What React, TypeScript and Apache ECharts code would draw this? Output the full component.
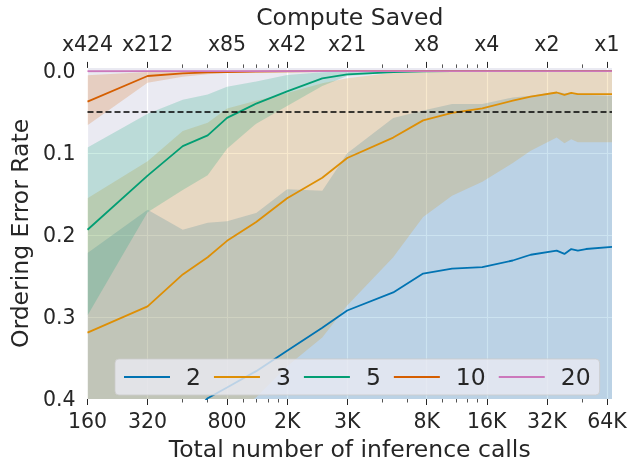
import React, { useEffect, useRef } from "react";
import * as echarts from "echarts";

// ---------- data ----------
const CALLS = [160, 320, 480, 640, 800, 1120, 1600, 2400, 3200, 5440, 7680, 10720, 15200, 21600, 26560, 35840, 39200, 42400, 45760, 50240, 67840];

const SERIES_NAMES = ["2", "3", "5", "10", "20"];
const COLORS = ["#0173b2", "#de8f05", "#029e73", "#d55e00", "#cc78bc"];

const MEAN_2 = [0.5, 0.46, 0.43, 0.399, 0.386, 0.366, 0.341, 0.313, 0.292, 0.27, 0.247, 0.241, 0.239, 0.231, 0.224, 0.219, 0.223, 0.217, 0.219, 0.217, 0.2145];
const LO_2 = [0.222, 0.169, 0.1935, 0.185, 0.183, 0.173, 0.144, 0.146, 0.1, 0.057, 0.048, 0.04, 0.04, 0.032, 0.03, 0.025, 0.027, 0.026, 0.028, 0.029, 0.03];
const HI_2 = [0.55, 0.55, 0.55, 0.55, 0.55, 0.55, 0.55, 0.55, 0.55, 0.55, 0.55, 0.55, 0.55, 0.55, 0.55, 0.55, 0.55, 0.55, 0.55, 0.55, 0.55];

const MEAN_3 = [0.319, 0.287, 0.248, 0.227, 0.207, 0.184, 0.155, 0.13, 0.106, 0.081, 0.06, 0.051, 0.0455, 0.036, 0.031, 0.026, 0.029, 0.0265, 0.028, 0.028, 0.028];
const LO_3 = [0.155, 0.11, 0.073, 0.063, 0.0455, 0.036, 0.0265, 0.0146, 0.0087, 0.002, 0, 0, 0, 0, 0, 0, 0, 0, 0, 0, 0];
const HI_3 = [0.52, 0.49, 0.46, 0.44, 0.42, 0.398, 0.36, 0.325, 0.286, 0.227, 0.178, 0.152, 0.135, 0.112, 0.097, 0.081, 0.088, 0.083, 0.0866, 0.0866, 0.0866];

const MEAN_5 = [0.1935, 0.1274, 0.0914, 0.0783, 0.057, 0.0395, 0.0246, 0.0087, 0.004, 0.0012, 0.0003, 0, 0, 0, 0, 0, 0, 0, 0, 0, 0];
const LO_5 = [0.093, 0.052, 0.035, 0.0285, 0.019, 0.0127, 0.0047, 0.0012, 0, 0, 0, 0, 0, 0, 0, 0, 0, 0, 0, 0, 0];
const HI_5 = [0.298, 0.172, 0.145, 0.127, 0.0946, 0.064, 0.0424, 0.018, 0.006, 0.0015, 0.0005, 0, 0, 0, 0, 0, 0, 0, 0, 0, 0];

const MEAN_10 = [0.0372, 0.0059, 0.0027, 0.0015, 0.001, 0.0006, 0.0003, 0, 0, 0, 0, 0, 0, 0, 0, 0, 0, 0, 0, 0, 0];
const LO_10 = [0.005, 0.001, 0, 0, 0, 0, 0, 0, 0, 0, 0, 0, 0, 0, 0, 0, 0, 0, 0, 0, 0];
const HI_10 = [0.066, 0.014, 0.0068, 0.0036, 0.002, 0.001, 0.0005, 0, 0, 0, 0, 0, 0, 0, 0, 0, 0, 0, 0, 0, 0];

const MEAN_20 = [0, 0, 0, 0, 0, 0, 0, 0, 0, 0, 0, 0, 0, 0, 0, 0, 0, 0, 0, 0, 0];
const LO_20 = [0, 0, 0, 0, 0, 0, 0, 0, 0, 0, 0, 0, 0, 0, 0, 0, 0, 0, 0, 0, 0];
const HI_20 = [0.002, 0.001, 0.0005, 0, 0, 0, 0, 0, 0, 0, 0, 0, 0, 0, 0, 0, 0, 0, 0, 0, 0];

const THRESHOLD = 0.05;

const MAJOR_TICKS = [160, 320, 800, 1600, 3200, 8000, 16000, 32000, 64000];
const BOTTOM_LABELS = ["160", "320", "800", "2K", "3K", "8K", "16K", "32K", "64K"];
const TOP_LABELS = ["x424", "x212", "x85", "x42", "x21", "x8", "x4", "x2", "x1"];
const MINOR_TICKS = [480, 640, 960, 1120, 1280, 1440, 4800, 6400, 9600, 11200, 12800, 14400, 48000];
const Y_TICKS = [0, 0.1, 0.2, 0.3, 0.4];
const Y_MIN = -0.004;
const Y_MAX = 0.4;
const X_MIN = 160;
const X_MAX = 67840;

const MEANS = [MEAN_2, MEAN_3, MEAN_5, MEAN_10, MEAN_20];
const LOWS = [LO_2, LO_3, LO_5, LO_10, LO_20];
const HIGHS = [HI_2, HI_3, HI_5, HI_10, HI_20];

// ---------- helpers ----------
const lx = (v: number) => Math.log10(v);
const FONT = "DejaVu Sans";
const TEXT = "#262626";

function rgba(hex: string, a: number) {
  const n = parseInt(hex.slice(1), 16);
  return `rgba(${(n >> 16) & 255},${(n >> 8) & 255},${n & 255},${a})`;
}

function labelFor(labels: string[]) {
  return (val: number) => {
    for (let i = 0; i < MAJOR_TICKS.length; i++) {
      if (Math.abs(lx(MAJOR_TICKS[i]) - val) < 1e-6) return labels[i];
    }
    return "";
  };
}

function bandSeries(lo: number[], hi: number[], color: string) {
  return {
    type: "custom",
    silent: true,
    z: 1,
    xAxisIndex: 0,
    yAxisIndex: 0,
    data: [[lx(CALLS[0]), lo[0]]],
    renderItem: (params: any, api: any) => {
      const cs = params.coordSys;
      const pts: number[][] = [];
      for (let i = 0; i < CALLS.length; i++) pts.push(api.coord([lx(CALLS[i]), lo[i]]));
      for (let i = CALLS.length - 1; i >= 0; i--) pts.push(api.coord([lx(CALLS[i]), hi[i]]));
      return {
        type: "group",
        clipPath: { type: "rect", shape: { x: cs.x, y: cs.y, width: cs.width, height: cs.height } },
        children: [
          {
            type: "polygon",
            shape: { points: pts },
            style: { fill: rgba(color, 0.2), stroke: "none" },
          },
        ],
      };
    },
  };
}

export default function App() {
  const ref = useRef<HTMLDivElement>(null);

  useEffect(() => {
    if (!ref.current) return;
    const chart = echarts.init(ref.current, undefined, { renderer: "svg" });

    const majorVals = MAJOR_TICKS.map(lx);
    const minorVals = MINOR_TICKS.map(lx);

    const baseX = {
      type: "value",
      min: lx(X_MIN),
      max: lx(X_MAX),
      gridIndex: 0,
      axisLine: { show: false, onZero: false },
    };

    const lineSeries = SERIES_NAMES.map((name, k) => ({
      name,
      type: "line",
      xAxisIndex: 0,
      yAxisIndex: 0,
      z: 3,
      symbol: "none",
      showSymbol: false,
      clip: true,
      color: COLORS[k],
      lineStyle: { color: COLORS[k], width: 1.8 },
      data: CALLS.map((c, i) => [lx(c), MEANS[k][i]]),
      ...(k === 0
        ? {
            markLine: {
              silent: true,
              symbol: "none",
              label: { show: false },
              z: 4,
              lineStyle: { color: "#000", type: [6, 3], width: 1.7 },
              data: [{ yAxis: THRESHOLD }],
            },
          }
        : {}),
    }));

    const bands = SERIES_NAMES.map((_, k) => bandSeries(LOWS[k], HIGHS[k], COLORS[k]));

    chart.setOption({
      animation: false,
      textStyle: { fontFamily: FONT },
      grid: {
        left: 85,
        right: 19,
        top: 67.5,
        bottom: 58,
        show: true,
        backgroundColor: "#EAEAF2",
        borderWidth: 0,
      },
      legend: {
        data: SERIES_NAMES,
        left: 115,
        top: 359,
        orient: "horizontal",
        icon: "rect",
        itemWidth: 46,
        itemHeight: 2,
        itemGap: 13,
        padding: [6, 9, 6, 9],
        backgroundColor: "rgba(234,234,242,0.8)",
        borderColor: "rgba(204,204,204,0.8)",
        borderWidth: 1,
        borderRadius: 4,
        textStyle: { fontSize: 23.5, color: TEXT, fontFamily: FONT, padding: [0, 0, 0, 11] },
      },
      xAxis: [
        {
          ...baseX,
          position: "bottom",
          name: "Total number of inference calls",
          nameLocation: "middle",
          nameGap: 38,
          nameTextStyle: { fontSize: 23.5, color: TEXT, fontFamily: FONT },
          axisTick: { show: true, customValues: majorVals, length: 6, lineStyle: { color: TEXT, width: 1 } },
          axisLabel: { customValues: majorVals, formatter: labelFor(BOTTOM_LABELS), fontSize: 20.5, color: TEXT, fontFamily: FONT, margin: 11 },
          splitLine: { show: true, lineStyle: { color: "#ffffff", width: 1.2 } },
        },
        {
          ...baseX,
          position: "bottom",
          axisTick: { show: true, customValues: minorVals, length: 3.5, lineStyle: { color: TEXT, width: 0.8 } },
          axisLabel: { show: false },
          splitLine: { show: false },
        },
        {
          ...baseX,
          position: "top",
          name: "Compute Saved",
          nameLocation: "middle",
          nameGap: 36,
          nameTextStyle: { fontSize: 23.5, color: TEXT, fontFamily: FONT },
          axisTick: { show: true, customValues: majorVals, length: 6, lineStyle: { color: TEXT, width: 1 } },
          axisLabel: { customValues: majorVals, formatter: labelFor(TOP_LABELS), fontSize: 20.5, color: TEXT, fontFamily: FONT, margin: 13 },
          splitLine: { show: false },
        },
        {
          ...baseX,
          position: "top",
          axisTick: { show: true, customValues: minorVals, length: 3.5, lineStyle: { color: TEXT, width: 0.8 } },
          axisLabel: { show: false },
          splitLine: { show: false },
        },
      ],
      yAxis: {
        type: "value",
        inverse: true,
        min: Y_MIN,
        max: Y_MAX,
        name: "Ordering Error Rate",
        nameLocation: "middle",
        nameGap: 52,
        nameTextStyle: { fontSize: 23.5, color: TEXT, fontFamily: FONT },
        axisLine: { show: false },
        axisTick: { show: false, customValues: Y_TICKS },
        axisLabel: {
          customValues: Y_TICKS,
          formatter: (v: number) => v.toFixed(1),
          fontSize: 20.5,
          color: TEXT,
          fontFamily: FONT,
          margin: 12,
        },
        splitLine: { show: true, lineStyle: { color: "#ffffff", width: 1.2 } },
      },
      series: [...bands, ...lineSeries],
    });

    return () => chart.dispose();
  }, []);

  return <div ref={ref} style={{ position: "fixed", left: 0, top: 0, width: 631, height: 466 }} />;
}
